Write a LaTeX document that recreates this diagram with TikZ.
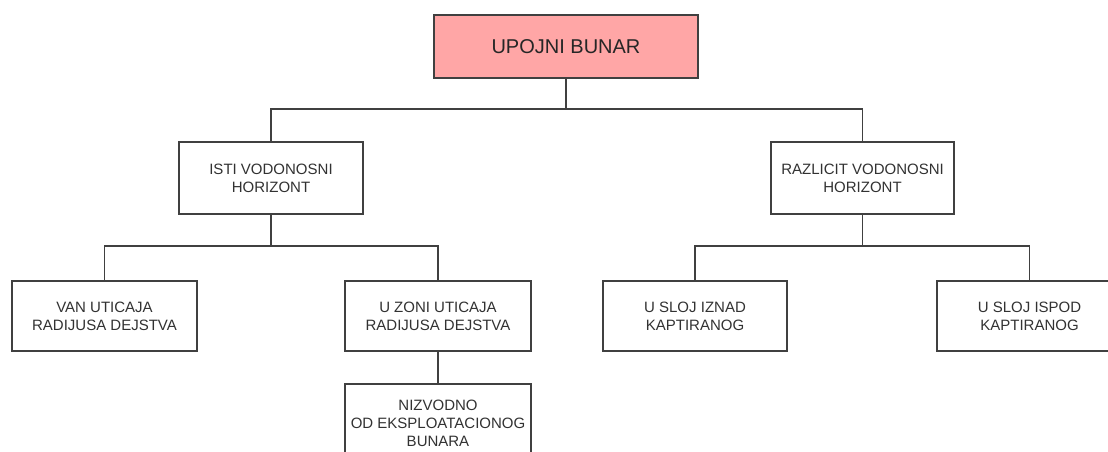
\documentclass[tikz,border=0pt]{standalone}
\usepackage{fontspec}
\setmainfont{Liberation Sans}
\definecolor{boxpink}{RGB}{255,166,166}
\definecolor{edge}{RGB}{64,64,64}
\definecolor{txt}{RGB}{50,50,50}
\begin{document}
\begin{tikzpicture}[x=1pt,y=-1pt,
  box/.style={draw=edge,line width=1.3pt,fill=white,inner sep=0pt,align=center,
    text=txt,font=\fontsize{15}{18}\selectfont,minimum height=71pt},
  conn/.style={draw=edge,line width=1.3pt}]
\useasboundingbox (0,0) rectangle (1108,452);
\node[box,fill=boxpink,minimum width=264pt,minimum height=63pt,font=\fontsize{20}{24}\selectfont,text=black!85] (top) at (566,46.5) {UPOJNI BUNAR};
\node[box,minimum width=184pt,minimum height=72pt] (isti) at (271,178) {ISTI VODONOSNI\\HORIZONT};
\node[box,minimum width=183pt,minimum height=72pt] (raz) at (862.5,178) {RAZLICIT VODONOSNI\\HORIZONT};
\node[box,minimum width=185pt,minimum height=70pt] (van) at (104.5,316) {VAN UTICAJA\\RADIJUSA DEJSTVA};
\node[box,minimum width=186pt,minimum height=70pt] (zoni) at (438,316) {U ZONI UTICAJA\\RADIJUSA DEJSTVA};
\node[box,minimum width=184pt,minimum height=70pt] (iznad) at (695,316) {U SLOJ IZNAD\\KAPTIRANOG};
\node[box,minimum width=185pt,minimum height=70pt] (ispod) at (1029.5,316) {U SLOJ ISPOD\\KAPTIRANOG};
\node[box,minimum width=186pt,minimum height=78pt] (niz) at (438,423) {NIZVODNO\\OD EKSPLOATACIONOG\\BUNARA};
\coordinate (b1) at (566,109);
\coordinate (b2) at (271,246);
\coordinate (b3) at (862.5,246);
\draw[conn] (top.south) -- (b1) -| (isti.north);
\draw[conn] (b1) -| (raz.north);
\draw[conn] (isti.south) -- (b2) -| (van.north);
\draw[conn] (b2) -| (zoni.north);
\draw[conn] (raz.south) -- (b3) -| (iznad.north);
\draw[conn] (b3) -| (ispod.north);
\draw[conn] (zoni.south) -- (niz.north);
\end{tikzpicture}
\end{document}
